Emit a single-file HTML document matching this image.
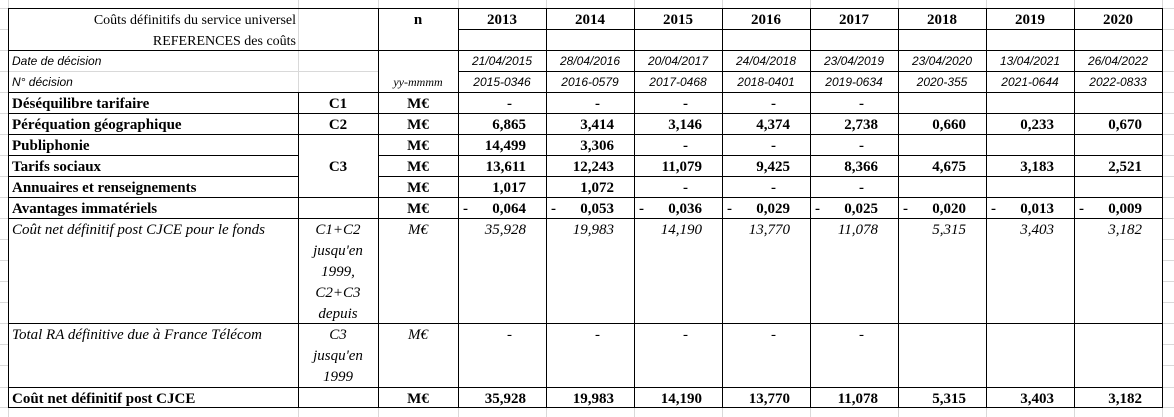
<!DOCTYPE html>
<html><head><meta charset="utf-8"><style>
html,body{margin:0;padding:0;background:#fff;width:1174px;height:417px;overflow:hidden}
svg{display:block}
.s{font-family:"Liberation Serif",serif;fill:#000}
.b{font-weight:bold;font-size:15px}
.i{font-style:italic;font-size:15px}
.d{font-family:"Liberation Sans",sans-serif;font-style:italic;font-size:12px;fill:#000}
</style></head><body>
<svg width="1174" height="417" xmlns="http://www.w3.org/2000/svg">
<g stroke="#d9d9d9" stroke-width="1">
<line x1="8.5" y1="0" x2="8.5" y2="417"/><line x1="298.5" y1="0" x2="298.5" y2="417"/><line x1="378.5" y1="0" x2="378.5" y2="417"/>
<line x1="458.5" y1="0" x2="458.5" y2="417"/><line x1="546.5" y1="0" x2="546.5" y2="417"/><line x1="634.5" y1="0" x2="634.5" y2="417"/>
<line x1="722.5" y1="0" x2="722.5" y2="417"/><line x1="810.5" y1="0" x2="810.5" y2="417"/><line x1="898.5" y1="0" x2="898.5" y2="417"/>
<line x1="986.5" y1="0" x2="986.5" y2="417"/><line x1="1074.5" y1="0" x2="1074.5" y2="417"/><line x1="1162.5" y1="0" x2="1162.5" y2="417"/>
<line x1="0" y1="8.5" x2="1174" y2="8.5"/><line x1="0" y1="29.5" x2="1174" y2="29.5"/><line x1="0" y1="50.5" x2="1174" y2="50.5"/>
<line x1="0" y1="71.5" x2="1174" y2="71.5"/><line x1="0" y1="92.5" x2="1174" y2="92.5"/><line x1="0" y1="113.5" x2="1174" y2="113.5"/>
<line x1="0" y1="134.5" x2="1174" y2="134.5"/><line x1="0" y1="155.5" x2="1174" y2="155.5"/><line x1="0" y1="176.5" x2="1174" y2="176.5"/>
<line x1="0" y1="197.5" x2="1174" y2="197.5"/><line x1="0" y1="218.5" x2="1174" y2="218.5"/><line x1="0" y1="239.5" x2="1174" y2="239.5"/>
<line x1="0" y1="260.5" x2="1174" y2="260.5"/><line x1="0" y1="281.5" x2="1174" y2="281.5"/><line x1="0" y1="302.5" x2="1174" y2="302.5"/>
<line x1="0" y1="323.5" x2="1174" y2="323.5"/><line x1="0" y1="344.5" x2="1174" y2="344.5"/><line x1="0" y1="365.5" x2="1174" y2="365.5"/>
<line x1="0" y1="387.5" x2="1174" y2="387.5"/><line x1="0" y1="407.5" x2="1174" y2="407.5"/>
</g>
<rect x="9" y="9" width="1153" height="398" fill="#fff"/>
<g stroke="#d9d9d9"><line x1="8" y1="71.5" x2="378" y2="71.5"/><line x1="298.5" y1="8" x2="298.5" y2="92"/></g>
<g stroke="#000" stroke-width="1">
<line x1="8" y1="8.5" x2="1163" y2="8.5"/><line x1="458" y1="29.5" x2="1163" y2="29.5"/><line x1="8" y1="50.5" x2="1163" y2="50.5"/>
<line x1="458" y1="71.5" x2="1163" y2="71.5"/><line x1="8" y1="92.5" x2="1163" y2="92.5"/><line x1="8" y1="113.5" x2="1163" y2="113.5"/>
<line x1="8" y1="134.5" x2="1163" y2="134.5"/>
<line x1="8" y1="155.5" x2="298" y2="155.5"/><line x1="378" y1="155.5" x2="1163" y2="155.5"/>
<line x1="8" y1="176.5" x2="298" y2="176.5"/><line x1="378" y1="176.5" x2="1163" y2="176.5"/>
<line x1="8" y1="197.5" x2="1163" y2="197.5"/>
<line x1="8" y1="218.5" x2="1163" y2="218.5"/><line x1="8" y1="323.5" x2="1163" y2="323.5"/><line x1="8" y1="387.5" x2="1163" y2="387.5"/><line x1="8" y1="407.5" x2="1163" y2="407.5"/>
<line x1="8.5" y1="8" x2="8.5" y2="408"/><line x1="298.5" y1="92" x2="298.5" y2="408"/><line x1="378.5" y1="8" x2="378.5" y2="408"/>
<line x1="458.5" y1="8" x2="458.5" y2="408"/><line x1="546.5" y1="8" x2="546.5" y2="408"/><line x1="634.5" y1="8" x2="634.5" y2="408"/>
<line x1="722.5" y1="8" x2="722.5" y2="408"/><line x1="810.5" y1="8" x2="810.5" y2="408"/><line x1="898.5" y1="8" x2="898.5" y2="408"/>
<line x1="986.5" y1="8" x2="986.5" y2="408"/><line x1="1074.5" y1="8" x2="1074.5" y2="408"/><line x1="1162.5" y1="8" x2="1162.5" y2="408"/>
</g>
<g class="s">
<text x="296" y="24" text-anchor="end" font-size="14">Coûts définitifs du service universel</text>
<text x="296" y="45" text-anchor="end" font-size="14">REFERENCES des coûts</text>
<text x="418" y="24" text-anchor="middle" class="b">n</text>
<g class="b" text-anchor="middle">
<text x="502" y="24">2013</text><text x="590" y="24">2014</text><text x="678" y="24">2015</text><text x="766" y="24">2016</text>
<text x="854" y="24">2017</text><text x="942" y="24">2018</text><text x="1030" y="24">2019</text><text x="1118" y="24">2020</text>
</g>
<text x="418" y="86" text-anchor="middle" font-style="italic" font-size="12">yy-mmmm</text>
<g class="b">
<text x="12" y="108">Déséquilibre tarifaire</text><text x="12" y="129">Péréquation géographique</text>
<text x="12" y="150">Publiphonie</text><text x="12" y="171">Tarifs sociaux</text>
<text x="12" y="192">Annuaires et renseignements</text>
<text x="12" y="213">Avantages immatériels</text>
<text x="12" y="403">Coût net définitif post CJCE</text>
</g>
<g class="b" text-anchor="middle">
<text x="338" y="108">C1</text><text x="338" y="129">C2</text><text x="338" y="171">C3</text>
<text x="418" y="108">M€</text><text x="418" y="129">M€</text><text x="418" y="150">M€</text><text x="418" y="171">M€</text>
<text x="418" y="192">M€</text><text x="418" y="213">M€</text><text x="418" y="403">M€</text>
</g>
<g class="i">
<text x="12" y="234">Coût net définitif post CJCE pour le fonds</text>
<text x="12" y="339">Total RA définitive due à France Télécom</text>
</g>
<g class="i" text-anchor="middle">
<text x="418" y="234">M€</text><text x="418" y="339">M€</text>
<text x="338" y="234">C1+C2</text><text x="338" y="255">jusqu'en</text><text x="338" y="276">1999,</text><text x="338" y="297">C2+C3</text><text x="338" y="318">depuis</text>
<text x="338" y="339">C3</text><text x="338" y="360">jusqu'en</text><text x="338" y="381">1999</text>
</g>
</g>
<g class="d">
<text x="12" y="65">Date de décision</text>
<text x="12" y="86">N° décision</text>
</g>
<g class="d" text-anchor="middle">
<text x="502" y="65">21/04/2015</text><text x="590" y="65">28/04/2016</text><text x="678" y="65">20/04/2017</text><text x="766" y="65">24/04/2018</text>
<text x="854" y="65">23/04/2019</text><text x="942" y="65">23/04/2020</text><text x="1030" y="65">13/04/2021</text><text x="1118" y="65">26/04/2022</text>
<text x="502" y="86">2015-0346</text><text x="590" y="86">2016-0579</text><text x="678" y="86">2017-0468</text><text x="766" y="86">2018-0401</text>
<text x="854" y="86">2019-0634</text><text x="942" y="86">2020-355</text><text x="1030" y="86">2021-0644</text><text x="1118" y="86">2022-0833</text>
</g>
<g class="s b" text-anchor="end">
<text x="512" y="108">-</text><text x="600" y="108">-</text><text x="688" y="108">-</text><text x="776" y="108">-</text><text x="864" y="108">-</text>
<text x="526" y="129">6,865</text><text x="614" y="129">3,414</text><text x="702" y="129">3,146</text><text x="790" y="129">4,374</text><text x="878" y="129">2,738</text><text x="966" y="129">0,660</text><text x="1054" y="129">0,233</text><text x="1142" y="129">0,670</text>
<text x="526" y="150">14,499</text><text x="614" y="150">3,306</text><text x="688" y="150">-</text><text x="776" y="150">-</text><text x="864" y="150">-</text>
<text x="526" y="171">13,611</text><text x="614" y="171">12,243</text><text x="702" y="171">11,079</text><text x="790" y="171">9,425</text><text x="878" y="171">8,366</text><text x="966" y="171">4,675</text><text x="1054" y="171">3,183</text><text x="1142" y="171">2,521</text>
<text x="526" y="192">1,017</text><text x="614" y="192">1,072</text><text x="688" y="192">-</text><text x="776" y="192">-</text><text x="864" y="192">-</text>
<text x="526" y="213">0,064</text><text x="614" y="213">0,053</text><text x="702" y="213">0,036</text><text x="790" y="213">0,029</text>
<text x="878" y="213">0,025</text><text x="966" y="213">0,020</text><text x="1054" y="213">0,013</text><text x="1142" y="213">0,009</text>
<text x="526" y="403">35,928</text><text x="614" y="403">19,983</text><text x="702" y="403">14,190</text><text x="790" y="403">13,770</text><text x="878" y="403">11,078</text><text x="966" y="403">5,315</text><text x="1054" y="403">3,403</text><text x="1142" y="403">3,182</text>
</g>
<g class="s b">
<text x="463" y="213">-</text><text x="551" y="213">-</text><text x="639" y="213">-</text><text x="727" y="213">-</text>
<text x="815" y="213">-</text><text x="903" y="213">-</text><text x="991" y="213">-</text><text x="1079" y="213">-</text>
</g>
<g class="s i" text-anchor="end">
<text x="526" y="234">35,928</text><text x="614" y="234">19,983</text><text x="702" y="234">14,190</text><text x="790" y="234">13,770</text>
<text x="878" y="234">11,078</text><text x="966" y="234">5,315</text><text x="1054" y="234">3,403</text><text x="1142" y="234">3,182</text>
<text x="512" y="339">-</text><text x="600" y="339">-</text><text x="688" y="339">-</text><text x="776" y="339">-</text><text x="864" y="339">-</text>
</g>
</svg>
</body></html>
